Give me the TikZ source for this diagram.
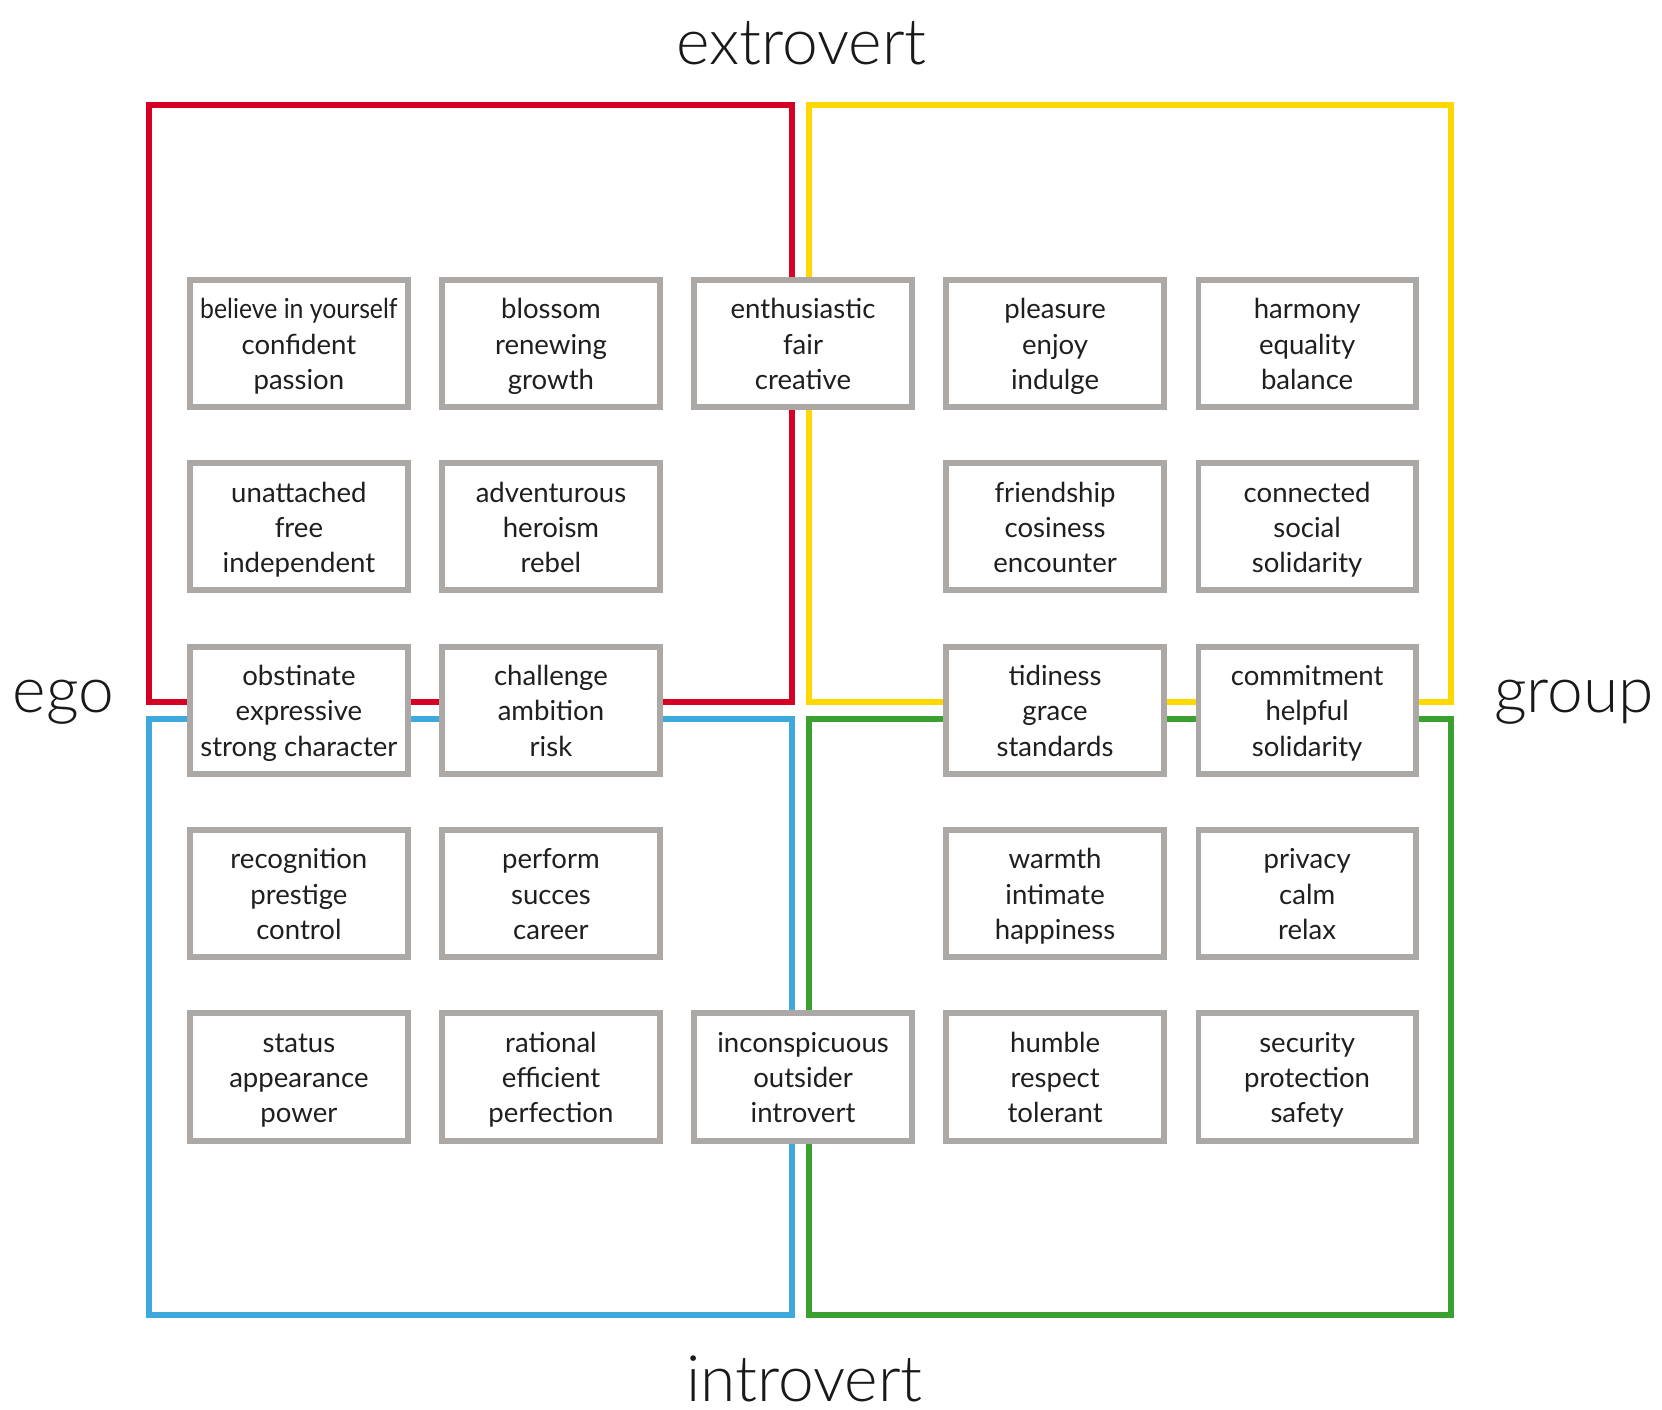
\documentclass[tikz,border=0pt]{standalone}
\usepackage{fontspec}
\setmainfont{Lato}
\newfontfamily\thinfont{Lato}[UprightFont={* Light}]
\usetikzlibrary{positioning}

\definecolor{egored}{RGB}{214,0,36}
\definecolor{groupyellow}{RGB}{255,216,0}
\definecolor{introblue}{RGB}{62,169,221}
\definecolor{calmgreen}{RGB}{58,160,48}
\definecolor{boxgray}{RGB}{172,168,166}

\newcommand\wordstrut{\rule[-1.9pt]{0pt}{9.5pt}}

\tikzset{
  quad/.style={line width=1.6pt},
  wordbox/.style={draw=boxgray,line width=1.6pt,fill=white,align=center,
    minimum width=2.05cm,minimum height=1.2cm,inner sep=0pt,
    font=\fontsize{7.4}{9.5}\selectfont,text=black!88},
  axislabel/.style={anchor=base,text depth=0pt,
    font=\thinfont\fontsize{17.2}{20}\selectfont,text=black!90}
}

\begin{document}
\begin{tikzpicture}
\useasboundingbox (0,0) rectangle (15.68,-13.30);

% the four quadrants
\draw[quad,color=egored](1.41,-0.99) rectangle (7.47,-6.62);
\draw[quad,color=groupyellow](7.63,-0.99) rectangle (13.69,-6.62);
\draw[quad,color=introblue](1.41,-6.78) rectangle (7.47,-12.41);
\draw[quad,color=calmgreen](7.63,-6.78) rectangle (13.69,-12.41);

% word boxes, column/row/three words
\foreach \c/\r/\one/\two/\three in {
  1/1/{\scalebox{0.9}[1]{believe in yourself}}/confident/passion,
  2/1/blossom/renewing/growth,
  3/1/enthusiastic/fair/creative,
  4/1/pleasure/enjoy/indulge,
  5/1/harmony/equality/balance,
  1/2/unattached/free/independent,
  2/2/adventurous/heroism/rebel,
  4/2/friendship/cosiness/encounter,
  5/2/connected/social/solidarity,
  1/3/obstinate/expressive/strong character,
  2/3/challenge/ambition/risk,
  4/3/tidiness/grace/standards,
  5/3/commitment/helpful/solidarity,
  1/4/recognition/prestige/control,
  2/4/perform/succes/career,
  4/4/warmth/intimate/happiness,
  5/4/privacy/calm/relax,
  1/5/status/appearance/power,
  2/5/rational/efficient/perfection,
  3/5/inconspicuous/outsider/introvert,
  4/5/humble/respect/tolerant,
  5/5/security/protection/safety}{
	\node[wordbox](b\r\c) at ({2.82+(\c-1)*2.378},{-3.24-(\r-1)*1.73})
	  {\wordstrut\one\\\wordstrut\two\\\wordstrut\three};
}

% axis names
\node[axislabel](extro) at (7.56,-0.61) {extrovert};
\node[axislabel](intro) at (7.59,-13.22) {introvert};
\node[axislabel](ego) at (0.60,-6.72) {ego};
\node[axislabel](group) at (14.85,-6.72) {group};

\end{tikzpicture}
\end{document}
